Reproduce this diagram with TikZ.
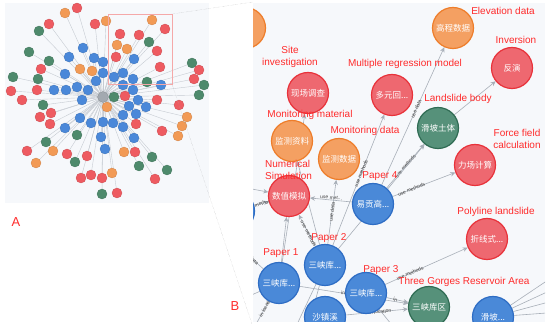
\documentclass[tikz,border=0pt]{standalone}
\usepackage{fontspec}
\setmainfont{Liberation Sans}
\newfontfamily\cjk{Noto Sans CJK SC}
\usetikzlibrary{arrows.meta}
\pgfdeclarelayer{bg}\pgfdeclarelayer{edges}\pgfsetlayers{bg,edges,main}
\definecolor{aR}{HTML}{EE5B61}
\definecolor{aB}{HTML}{4A88D9}
\definecolor{aG}{HTML}{4E8A6C}
\definecolor{aO}{HTML}{F29A55}
\definecolor{aC}{HTML}{A3A9B0}
\definecolor{bRf}{HTML}{EE6870}
\definecolor{bRd}{HTML}{E8323A}
\definecolor{bOf}{HTML}{F4A062}
\definecolor{bOd}{HTML}{EE7D2A}
\definecolor{bBf}{HTML}{4A89D8}
\definecolor{bBd}{HTML}{2E6DC4}
\definecolor{bGf}{HTML}{56917A}
\definecolor{bGd}{HTML}{2F6B53}
\definecolor{labred}{HTML}{FF2B2B}
\definecolor{egray}{HTML}{A8AFB8}
\definecolor{agray}{HTML}{C6CBD2}
\definecolor{panel}{HTML}{F6F8FB}
\definecolor{zoomred}{HTML}{F5A8A8}
\tikzset{
  anode/.style={circle, minimum size=10pt, inner sep=0pt, line width=0.3pt},
  aedge/.style={draw=agray, line width=0.4pt},
  bnode/.style={circle, minimum size=41pt, inner sep=0pt, line width=1.2pt, text=white,
     font=\cjk\fontsize{8.5}{9}\selectfont},
  bR/.style={bnode, fill=bRf, draw=bRd},
  bO/.style={bnode, fill=bOf, draw=bOd},
  bB/.style={bnode, fill=bBf, draw=bBd},
  bG/.style={bnode, fill=bGf, draw=bGd},
  bedge/.style={draw=egray, line width=0.6pt},
  barrow/.style={bedge, -{Stealth[length=5pt,width=4.5pt]}},
  elab/.style={font=\fontsize{5}{6}\selectfont, text=black!75, sloped, inner sep=0.5pt},
  blab/.style={text=labred, font=\fontsize{10}{11.5}\selectfont, align=center, inner sep=0pt},
  plab/.style={text=labred, font=\fontsize{13}{14}\selectfont, inner sep=0pt},
  guide/.style={draw=black!35, line width=0.3pt, densely dotted}
}
\begin{document}
\begin{tikzpicture}[x=1pt,y=-1pt]
\useasboundingbox (0,0) rectangle (550,326);
\begin{pgfonlayer}{bg}
  \fill[panel] (5,3) rectangle (209,203);
  \fill[panel] (253,3) rectangle (545,322);
\end{pgfonlayer}

% ---------------- Panel A ----------------
\node[anode, minimum size=11pt, fill=aC, draw=aC!80!black] (ac) at (103,97) {};
\foreach \x/\y/\c [count=\i] in {
77/8/R, 65/13/O, 49/24/R, 39/31/G, 95/24/R, 106/21/O, 152/20/O, 165/29/R, 139/35/R, 120/34/R,
149/42/G, 117/45/O, 127/49/O, 157/51/R, 116/57/R, 134/59/B, 83/48/B, 69/57/B, 29/52/G, 49/61/G,
41/69/R, 94/58/B, 103/62/B, 80/69/O, 92/71/O, 103/73/B, 65/74/B, 160/67/R, 13/77/G, 38/79/G,
123/73/B, 114/77/B, 96/81/B, 133/79/B, 147/82/G, 161/85/B, 192/63/G, 199/70/R, 194/79/R, 204/85/G,
199/95/G, 11/91/R, 37/90/R, 54/90/B, 66/90/B, 77/87/B, 88/90/B, 123/85/B, 114/97/G, 125/96/R,
133/90/B, 22/100/R, 82/100/B, 138/100/B, 157/100/R, 43/105/G, 107/107/O, 129/106/B, 146/107/B, 179/105/R,
51/113/R, 40/117/R, 123/115/B, 136/114/B, 80/118/B, 91/123/B, 103/122/B, 113/123/B, 123/127/B, 136/124/R,
187/117/O, 182/126/O, 178/136/O, 162/131/R, 50/124/R, 65/128/B, 77/135/G, 101/137/B, 134/138/B, 46/142/G,
27/151/R, 53/151/O, 105/149/B, 124/152/O, 135/152/R, 67/154/R, 87/156/R, 152/157/G, 36/163/O, 75/162/G,
139/166/G, 167/170/G, 81/178/R, 91/175/R, 102/178/R, 112/173/O, 155/179/R, 102/194/G, 117/193/R}
{
  \node[anode, fill=a\c, draw=a\c!85!black] (a\i) at (\x,\y) {};
}
\begin{pgfonlayer}{edges}
  \foreach \i in {1,...,99} { \draw[aedge] (ac) -- (a\i); }
\end{pgfonlayer}

% zoom frame and guide lines
\draw[zoomred, line width=0.5pt] (108,14) rectangle (172,84);
\coordinate (zt) at (172,14);
\coordinate (zb) at (172,84);
\coordinate (bt) at (253,2);
\coordinate (bb) at (252,324);
\draw[guide] (zt) -- (bt);
\draw[guide] (zb) -- (bb);

% ---------------- Panel B nodes ----------------
\begin{scope}
\clip (253,3) rectangle (545,322);
\node[bO] (k0) at (245,28) {};
\node[bB] (pL) at (234,211) {};
\node[bR] (s1) at (308,93) {现场调查};
\node[bR] (s2) at (392,95) {多元回...};
\node[bO] (s3) at (453,28) {高程数据};
\node[bR] (s4) at (512,68) {反演};
\node[bG] (s5) at (438,128) {滑坡土体};
\node[bR] (s6) at (475,165) {力场计算};
\node[bO] (s7) at (292,141) {监测资料};
\node[bO] (s8) at (339,159) {监测数据};
\node[bR] (s9) at (289,196) {数值模拟};
\node[bB] (p4) at (373,204) {易贡高...};
\node[bR] (s11) at (487,239) {折线式...};
\node[bB] (p5) at (325,317) {沙镇溪};
\node[bB] (p2) at (325,265) {三峡库...};
\node[bB] (p1) at (279,283) {三峡库...};
\node[bB] (p3) at (366,293) {三峡库...};
\node[bG] (s10) at (429,307) {三峡库区};
\node[bB] (p6) at (493,317) {滑坡...};
\end{scope}

% outside end points
\coordinate (o1) at (236,186);
\coordinate (o2) at (238,246);
\coordinate (o3) at (250,335);
\coordinate (o4) at (292,335);
\coordinate (o5) at (306,335);
\coordinate (o6) at (400,335);
\coordinate (r1) at (560,272);
\coordinate (r2) at (560,286);
\coordinate (r3) at (560,299);
\coordinate (r4) at (560,312);
\coordinate (o7) at (240,300);

% ---------------- Panel B edges ----------------
\begin{pgfonlayer}{edges}
\begin{scope}
\clip (253,3) rectangle (545,322);
\draw[barrow] (p2) -- node[elab, pos=0.55]{use methods} (s2);
\draw[barrow] (p4) -- node[elab, pos=0.55]{use data} (s3);
\draw[barrow] (p4) -- node[elab, pos=0.5]{use methods} (s5);
\draw[barrow] (p2) -- (s5);
\draw[barrow] (p4) -- node[elab, pos=0.3]{use methods} (s6);
\draw[barrow] (s5) -- (s4);
\draw[barrow] (p4) -- node[elab, pos=0.5, above]{use met...} (s9);
\draw[barrow] (p2) -- node[elab, pos=0.5]{use data} (s8);
\draw[barrow] (p2) -- node[elab, pos=0.4]{use methods} (s9);
\draw[barrow] (p1) -- (s9);
\draw[barrow] (p2) -- node[elab, pos=0.62]{use data} (s7);
\draw[barrow] (p1) -- (s1);
\draw[barrow] (p3) -- node[elab, pos=0.3]{use methods} (s11);
\draw[barrow] (p3) -- node[elab, pos=0.4]{in} (s10);
\draw[barrow] (p1) -- node[elab, pos=0.4]{in} (s10);
\draw[barrow] (p5) -- node[elab, pos=0.55]{in location} (s10);
\draw[barrow] (pL) -- node[elab, pos=0.35]{use methods} (s9);
\draw[barrow] (o1) -- (s9);
\draw[bedge] (p1) -- node[elab, pos=0.5]{use data} (o2);
\draw[bedge] (p1) -- node[elab, pos=0.15]{in location} (o3);
\draw[bedge] (p2) -- (o4);
\draw[bedge] (p2) -- (o5);
\draw[bedge] (p3) -- (o6);
\draw[bedge] (p1) -- (o7);
\draw[bedge] (p6) -- (r1);
\draw[bedge] (p6) -- (r2);
\draw[bedge] (p6) -- (r3);
\draw[bedge] (p6) -- (r4);
\end{scope}
\end{pgfonlayer}

% ---------------- Panel B labels ----------------
\node[blab] (l1) at (290,57) {Site\\investigation};
\node[blab] (l2) at (405,64) {Multiple regression model};
\node[blab] (l3) at (503,11) {Elevation data};
\node[blab] (l4) at (516,40) {Inversion};
\node[blab] (l5) at (458,99) {Landslide body};
\node[blab] (l6) at (517,139) {Force field\\calculation};
\node[blab] (l7) at (310,115) {Monitoring material};
\node[blab] (l8) at (365,131) {Monitoring data};
\node[blab, align=left, anchor=west] (l9) at (265,170) {Numerical\\Simulation};
\node[blab] (l10) at (380,176) {Paper 4};
\node[blab] (l11) at (329,238) {Paper 2};
\node[blab] (l12) at (281,253) {Paper 1};
\node[blab] (l13) at (381,270) {Paper 3};
\node[blab] (l14) at (464,282) {Three Gorges Reservoir Area};
\node[blab] (l15) at (496,212) {Polyline landslide};

\node[plab] (lA) at (16,222) {A};
\node[plab] (lB) at (235,306) {B};
\end{tikzpicture}
\end{document}
